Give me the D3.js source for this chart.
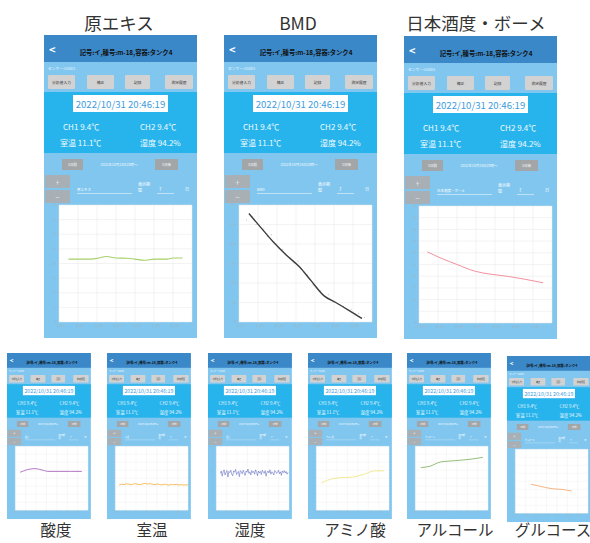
<!DOCTYPE html>
<html>
<head>
<meta charset="utf-8">
<script src="https://cdn.jsdelivr.net/npm/d3@7"></script>
<style>
  body { margin: 0; background: #fff; }
  svg { display: block; font-family: "Noto Sans CJK JP", "Noto Sans", sans-serif; }
</style>
</head>
<body>
<div id="chart"></div>
<script>
// values, [day, value]
let genExtract = [[0.5,21.5],[1.7,21.5],[2.1,21.9],[2.5,22.4],[3.0,21.9],[3.6,21.8],[4.0,21.5],[4.5,21.1],[5.0,21.5],[5.7,21.5],[6.0,21.9],[6.5,21.9]];
let bmd = [[0.52,278],[1.12,244],[1.81,205],[2.5,171],[3.19,141],[3.79,106],[4.48,67],[5.09,50],[5.78,30],[6.47,9]];
let bmdRaw = [[0.4,262],[0.7,270],[0.9,250],[1.3,238],[1.5,219],[1.7,224],[2.1,190],[2.3,186],[2.7,166],[2.9,152],[3.1,156],[3.4,128],[3.6,120],[3.9,95],[4.1,88],[4.3,80],[4.7,70],[4.9,55],[5.3,45],[5.5,40],[5.9,32],[6.1,18],[6.3,22],[6.6,12]];
let sakeMeter = [[0.44,30.4],[1.22,27.5],[2.0,25.0],[2.96,22.1],[3.74,20.9],[4.7,19.9],[5.57,18.7],[6.53,17.2]];
let acidity = [[0.47,4.75],[0.8,4.9],[1.1,5.05],[1.5,5.15],[1.9,5.2],[2.35,5.1],[2.8,4.95],[3.13,4.85],[4.2,4.85],[5.3,4.85],[6.4,4.85]];
let roomTemp = [15.8,16.2,16.0,16.5,16.3,15.9,16.4,16.6,16.1,16.0,16.5,16.8,16.3,16.6,16.2,15.9,16.4,16.1,15.8,16.3,16.0,15.7,16.1,15.9,16.2,15.8,16.0,15.7,15.9,15.8];
let humidity = [92,98,85,96,101,88,95,99,83,97,94,100,90,86,98,95,102,89,93,97,84,99,96,91,100,94,87,98,95,103,92,96,88,99,94,97,90,101,95,86,98,93,97,89,100,96,92,99,85,95,98,93,101,90,96,94,88,99,97,92,95,100,91,96,87,98,94,99,93,97,90,95];
let aminoAcid = [[0.5,3.42],[1.65,3.96],[2.64,4.08],[3.63,4.17],[4.62,4.5],[5.61,4.92],[6.53,4.92]];
let alcohol = [[0.54,16.0],[1.34,16.4],[2.45,18.1],[3.25,18.4],[4.52,18.8],[5.48,19.2],[6.5,19.8]];
let glucose = [[1.5,3.62],[2.29,3.4],[3.54,3.06],[4.48,2.98],[5.42,2.77]];

let dayLabels = ["10/24","10/25","10/26","10/27","10/28","10/29","10/30",""];
let ticks0to40 = [0,5,10,15,20,25,30,35,40];
let ticksBmd = [0,50,100,150,200,250,300];
let ticksSake = [0,5,10,15,20,25,30,35,40,45,50];
let ticks0to8 = [0,1,2,3,4,5,6,7,8];
let ticksHum = [0,20,40,60,80,100,120,140,160];
let ticksAlc = [0,3,6,9,12,15,18,21,24];

let topLabels = ["原エキス", "BMD", "日本酒度・ボーメ"];
let bottomLabels = ["酸度", "室温", "湿度", "アミノ酸", "アルコール", "グルコース"];

let phones = [
  {x: 44, y: 35, s: 1, field: "原エキス", data: genExtract, ticks: ticks0to40, color: "#a8d06a", width: 1.1},
  {x: 224, y: 35, s: 1, field: "BMD", data: bmd, raw: bmdRaw, ticks: ticksBmd, color: "#3c3c3c", width: 1.4},
  {x: 404, y: 36, s: 1, field: "日本酒度・ボーメ", data: sakeMeter, ticks: ticksSake, color: "#f2909f", width: 1},
  {x: 7, y: 353, s: 0.548, field: "酸度", data: acidity, ticks: ticks0to8, color: "#a968bd", width: 1.6},
  {x: 107, y: 353, s: 0.548, field: "室温", samples: roomTemp, span: [0.38, 7], ticks: ticks0to40, color: "#f5b041", width: 1.5},
  {x: 208, y: 353, s: 0.548, field: "湿度", samples: humidity, span: [0.39, 6.9], ticks: ticksHum, color: "#4c58b8", width: 0.9},
  {x: 308, y: 353, s: 0.548, field: "アミノ酸", data: aminoAcid, ticks: ticks0to8, color: "#f0e47a", width: 1.5},
  {x: 407, y: 353, s: 0.548, field: "アルコール", data: alcohol, ticks: ticksAlc, color: "#86b466", width: 1.6},
  {x: 507, y: 356, s: 0.548, field: "グルコース", data: glucose, ticks: ticks0to8, color: "#f2a266", width: 1.5}
];

let svg = d3.select("#chart").append("svg")
  .attr("width", 590).attr("height", 543);
svg.append("rect").attr("width", 590).attr("height", 543).attr("fill", "#fff");

// titles
let topX = [119, 298, 476];
svg.selectAll("text.top").data(topLabels).enter().append("text")
  .attr("class", "top")
  .attr("x", (d, i) => topX[i]).attr("y", 30)
  .attr("text-anchor", "middle").attr("font-size", 17.5).attr("fill", "#333")
  .text(d => d);
let botX = [56, 152, 250, 355, 455, 553];
svg.selectAll("text.bot").data(bottomLabels).enter().append("text")
  .attr("class", "bot")
  .attr("x", (d, i) => botX[i]).attr("y", 536)
  .attr("text-anchor", "middle").attr("font-size", 15.5).attr("fill", "#333")
  .text(d => d);

phones.forEach(p => drawPhone(p));

function drawPhone(p) {
  let g = svg.append("g").attr("transform", `translate(${p.x},${p.y}) scale(${p.s})`);
  let W = 153, H = 303;
  let white = "#fff";

  g.append("rect").attr("width", W).attr("height", H).attr("fill", "#80c6ef");
  // header
  g.append("rect").attr("width", W).attr("height", 27).attr("fill", "#3b88c8");
  g.append("text").attr("x", 5).attr("y", 19).attr("font-size", 11).attr("font-weight", "bold")
    .attr("fill", white).text("<");
  g.append("text").attr("x", 82).attr("y", 20).attr("font-size", 6.3).attr("font-weight", "bold")
    .attr("text-anchor", "middle").attr("fill", "#111").text("記号:イ,種号:m-18,容器:タンク4");
  g.append("text").attr("x", 4).attr("y", 35).attr("font-size", 3.8).attr("fill", "#eaf6ff").text("センサー:SS003");

  let btns = [[4, 27, "分析値入力"], [43, 27, "補正"], [81, 25, "記録"], [121, 28, "測定履歴"]];
  btns.forEach(b => {
    g.append("rect").attr("x", b[0]).attr("y", 40).attr("width", b[1]).attr("height", 14)
      .attr("rx", 1.2).attr("fill", "#d2d2d2");
    g.append("text").attr("x", b[0] + b[1] / 2).attr("y", 48.5).attr("text-anchor", "middle")
      .attr("font-size", 3.8).attr("fill", "#333").text(b[2]);
  });

  // status band
  g.append("rect").attr("y", 57).attr("width", W).attr("height", 61).attr("fill", "#27b3eb");
  g.append("rect").attr("x", 29).attr("y", 60).attr("width", 95).attr("height", 17).attr("fill", white);
  g.append("text").attr("x", 76.5).attr("y", 72.5).attr("text-anchor", "middle").attr("font-size", 9.6)
    .attr("fill", "#3d9be0").text("2022/10/31 20:46:19");
  let stat = [[19, 95, "CH1 9.4℃"], [96, 95, "CH2 9.4℃"], [16, 111, "室温 11.1℃"], [96, 111, "湿度 94.2%"]];
  stat.forEach(s => g.append("text").attr("x", s[0]).attr("y", s[1]).attr("font-size", 8)
    .attr("fill", "#f2fbff").text(s[2]));

  // date navigation
  [[18, 21, "1日前"], [111, 23, "1日後"]].forEach(b => {
    g.append("rect").attr("x", b[0]).attr("y", 124).attr("width", b[1]).attr("height", 11)
      .attr("fill", "#a3a6a9");
    g.append("text").attr("x", b[0] + b[1] / 2).attr("y", 131).attr("text-anchor", "middle")
      .attr("font-size", 3.5).attr("fill", white).text(b[2]);
  });
  g.append("text").attr("x", 75).attr("y", 131).attr("text-anchor", "middle").attr("font-size", 3.5)
    .attr("fill", "#f4fbff").text("2022年10月25日20時～");
  [[140, "＋"], [155, "－"]].forEach(b => {
    g.append("rect").attr("x", 1).attr("y", b[0]).attr("width", 25).attr("height", 13).attr("fill", "#a8b0b6");
    g.append("text").attr("x", 13.5).attr("y", b[0] + 8.5).attr("text-anchor", "middle")
      .attr("font-size", 5).attr("fill", white).text(b[1]);
  });
  g.append("text").attr("x", 33).attr("y", 156).attr("font-size", 3.5).attr("fill", white).text(p.field);
  g.append("line").attr("x1", 33).attr("x2", 88).attr("y1", 158.5).attr("y2", 158.5)
    .attr("stroke", white).attr("stroke-width", 0.5);
  g.append("text").attr("x", 94).attr("y", 151).attr("font-size", 4).attr("fill", white).text("表示期");
  g.append("text").attr("x", 94).attr("y", 157).attr("font-size", 4).attr("fill", white).text("間");
  g.append("text").attr("x", 115).attr("y", 156).attr("font-size", 4.5).attr("fill", white).text("7");
  g.append("line").attr("x1", 113).attr("x2", 130).attr("y1", 158.5).attr("y2", 158.5)
    .attr("stroke", white).attr("stroke-width", 0.5);
  g.append("text").attr("x", 141).attr("y", 156).attr("font-size", 4).attr("fill", white).text("日");

  // chart panel
  let px = 15, py = 170, pw = 133, ph = 117;
  g.append("rect").attr("x", px).attr("y", py).attr("width", pw).attr("height", ph).attr("fill", white);
  let x = d3.scaleLinear().domain([0, 7]).range([px, px + pw]);
  let y = d3.scaleLinear().domain(d3.extent(p.ticks)).range([py + ph, py]);

  g.append("g").selectAll("line").data(d3.range(8)).enter().append("line")
    .attr("x1", d => x(d)).attr("x2", d => x(d)).attr("y1", py).attr("y2", py + ph)
    .attr("stroke", "#e6e6e6").attr("stroke-width", 0.5);
  g.append("g").selectAll("line").data(p.ticks).enter().append("line")
    .attr("y1", d => y(d)).attr("y2", d => y(d)).attr("x1", px).attr("x2", px + pw)
    .attr("stroke", "#e6e6e6").attr("stroke-width", 0.5);
  g.append("g").selectAll("text").data(p.ticks).enter().append("text")
    .attr("x", px - 3).attr("y", d => y(d) + 1.2).attr("text-anchor", "end")
    .attr("font-size", 3.3).attr("fill", "#9fb7c8").text(d => d);
  g.append("g").selectAll("text").data(dayLabels).enter().append("text")
    .attr("x", (d, i) => x(i) + 2).attr("y", py + ph + 5).attr("text-anchor", "middle")
    .attr("font-size", 3.2).attr("fill", "#9fb7c8").text(d => d);

  let line = d3.line().x(d => x(d[0])).y(d => y(d[1])).curve(d3.curveMonotoneX);
  let pts = p.data;
  if (p.samples) {
    let t = d3.scaleLinear().domain([0, p.samples.length - 1]).range(p.span);
    pts = p.samples.map((v, i) => [t(i), v]);
    line.curve(d3.curveLinear);
  }
  if (p.raw) {
    g.append("g").selectAll("circle").data(p.raw).enter().append("circle")
      .attr("cx", d => x(d[0])).attr("cy", d => y(d[1])).attr("r", 0.6).attr("fill", "#c4c4c4");
  }
  g.append("path").datum(pts).attr("d", line).attr("fill", "none")
    .attr("stroke", p.color).attr("stroke-width", p.width).attr("stroke-linejoin", "round");
}
</script>
</body>
</html>
